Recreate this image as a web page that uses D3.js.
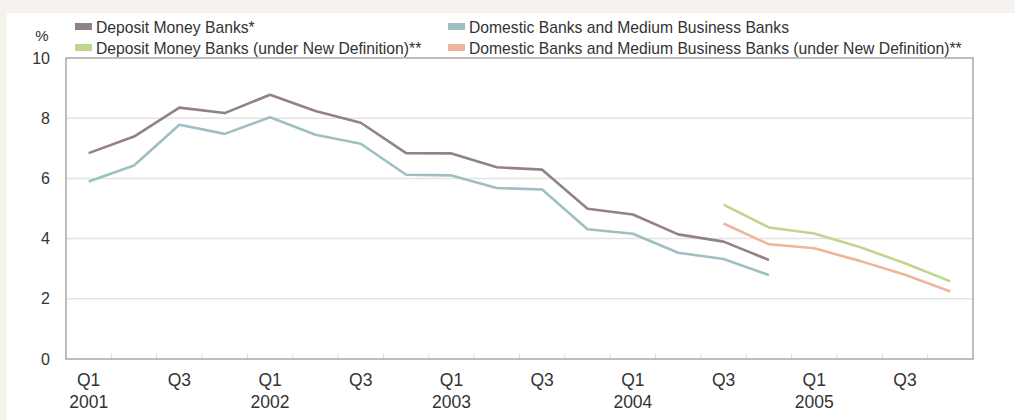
<!DOCTYPE html>
<html>
<head>
<meta charset="utf-8">
<script src="https://cdn.jsdelivr.net/npm/d3@7"></script>
<style>
  html, body { margin: 0; padding: 0; background: #f6f3ee; }
  #chart { width: 1015px; height: 420px; }
  text { font-family: "Liberation Sans", Arial, Helvetica, sans-serif; fill: #333; }
</style>
</head>
<body>
<div id="chart"></div>
<script>
// Quarters 2001 Q1 .. 2005 Q4
const quarters = [
    '2001Q1', '2001Q2', '2001Q3', '2001Q4',
    '2002Q1', '2002Q2', '2002Q3', '2002Q4',
    '2003Q1', '2003Q2', '2003Q3', '2003Q4',
    '2004Q1', '2004Q2', '2004Q3', '2004Q4',
    '2005Q1', '2005Q2', '2005Q3', '2005Q4'
];

// values (null = no data)
const depositBanks = [6.84, 7.39, 8.35, 8.17, 8.78, 8.24, 7.85, 6.84, 6.83, 6.37,
    6.29, 4.99, 4.80, 4.14, 3.90, 3.29, null, null, null, null];
const domesticBanks = [5.90, 6.43, 7.78, 7.48, 8.03, 7.45, 7.15, 6.12, 6.10, 5.68,
    5.63, 4.31, 4.16, 3.53, 3.32, 2.79, null, null, null, null];
const depositBanksNew = [null, null, null, null, null, null, null, null, null, null,
    null, null, null, null, 5.13, 4.37, 4.17, 3.72, 3.18, 2.58];
const domesticBanksNew = [null, null, null, null, null, null, null, null, null, null,
    null, null, null, null, 4.50, 3.81, 3.68, 3.26, 2.80, 2.24];

const yTicks = [0, 2, 4, 6, 8, 10];

const series = [
    { name: 'Deposit Money Banks*', values: depositBanks, color: '#928288' },
    { name: 'Domestic Banks and Medium Business Banks', values: domesticBanks, color: '#9fc0c2' },
    { name: 'Deposit Money Banks (under New Definition)**', values: depositBanksNew, color: '#bfd68f' },
    { name: 'Domestic Banks and Medium Business Banks (under New Definition)**', values: domesticBanksNew, color: '#eeb59d' }
];

function drawChart() {
    const W = 1015, H = 420;
    const margin = { top: 58, right: 42, bottom: 61, left: 66 };
    const width = W - margin.left - margin.right;
    const height = H - margin.top - margin.bottom;

    const svg = d3.select('#chart').append('svg')
        .attr('width', W)
        .attr('height', H);

    // white panel
    svg.append('rect')
        .attr('x', 7).attr('y', 13)
        .attr('width', W - 7).attr('height', H - 13)
        .attr('fill', '#ffffff');

    const g = svg.append('g')
        .attr('transform', `translate(${margin.left},${margin.top})`);

    const xScale = d3.scaleBand()
        .domain(quarters)
        .range([0, width])
        .padding(0);

    const yScale = d3.scaleLinear()
        .domain([0, 10])
        .range([height, 0]);

    // Grid
    g.append('g')
        .selectAll('line')
        .data(yTicks.filter(t => t > 0 && t < 10))
        .enter()
        .append('line')
        .attr('x1', 0).attr('x2', width)
        .attr('y1', d => yScale(d)).attr('y2', d => yScale(d))
        .attr('stroke', '#e4e4e4')
        .attr('stroke-width', 1.5);

    // small inward ticks on the x axis, at quarter boundaries
    g.append('g')
        .selectAll('line')
        .data(quarters.slice(1))
        .enter()
        .append('line')
        .attr('x1', d => xScale(d)).attr('x2', d => xScale(d))
        .attr('y1', height).attr('y2', height - 6)
        .attr('stroke', '#dedede')
        .attr('stroke-width', 1);

    // frame
    g.append('rect')
        .attr('x', 0).attr('y', 0)
        .attr('width', width).attr('height', height)
        .attr('fill', 'none')
        .attr('stroke', '#a8a8a8')
        .attr('stroke-width', 1.5);

    // Lines
    const line = d3.line()
        .defined(d => d.v !== null)
        .x(d => xScale(d.q) + xScale.bandwidth() / 2)
        .y(d => yScale(d.v));

    series.forEach(s => {
        g.append('path')
            .datum(quarters.map((q, i) => ({ q: q, v: s.values[i] })))
            .attr('d', line)
            .attr('fill', 'none')
            .attr('stroke', s.color)
            .attr('stroke-width', 2.6)
            .attr('stroke-linejoin', 'round');
    });

    // Y axis labels
    g.append('g')
        .call(d3.axisLeft(yScale).tickValues(yTicks).tickSize(0).tickPadding(16))
        .call(a => a.select('.domain').remove())
        .selectAll('text')
        .style('font-size', '16px')
        .style('fill', '#333');

    g.append('text')
        .attr('x', -24)
        .attr('y', -17)
        .attr('text-anchor', 'middle')
        .style('font-size', '15px')
        .text('%');

    // X axis labels (Q1 / Q3, year below Q1)
    const xLab = g.append('g')
        .selectAll('text')
        .data(quarters.filter((q, i) => i % 2 === 0))
        .enter()
        .append('text')
        .attr('x', d => xScale(d) + xScale.bandwidth() / 2)
        .attr('y', height + 27)
        .attr('text-anchor', 'middle')
        .style('font-size', '17.5px');

    xLab.append('tspan')
        .attr('x', d => xScale(d) + xScale.bandwidth() / 2)
        .text(d => d.slice(4));
    xLab.filter(d => d.endsWith('Q1')).append('tspan')
        .attr('x', d => xScale(d) + xScale.bandwidth() / 2)
        .attr('dy', 22)
        .text(d => d.slice(0, 4));

    // Legend (two columns, two rows)
    const legendPos = [
        { x: 75, y: 27 }, { x: 448, y: 27 },
        { x: 75, y: 48 }, { x: 448, y: 48 }
    ];
    const legend = svg.append('g')
        .selectAll('g')
        .data(series)
        .enter()
        .append('g')
        .attr('transform', (d, i) => `translate(${legendPos[i].x},${legendPos[i].y})`);

    legend.append('rect')
        .attr('x', 0).attr('y', -4)
        .attr('width', 17).attr('height', 7)
        .attr('fill', d => d.color);

    legend.append('text')
        .attr('x', 21)
        .attr('y', 0)
        .attr('dy', '0.35em')
        .style('font-size', '15.7px')
        .text(d => d.name);
}

drawChart();
</script>
</body>
</html>
